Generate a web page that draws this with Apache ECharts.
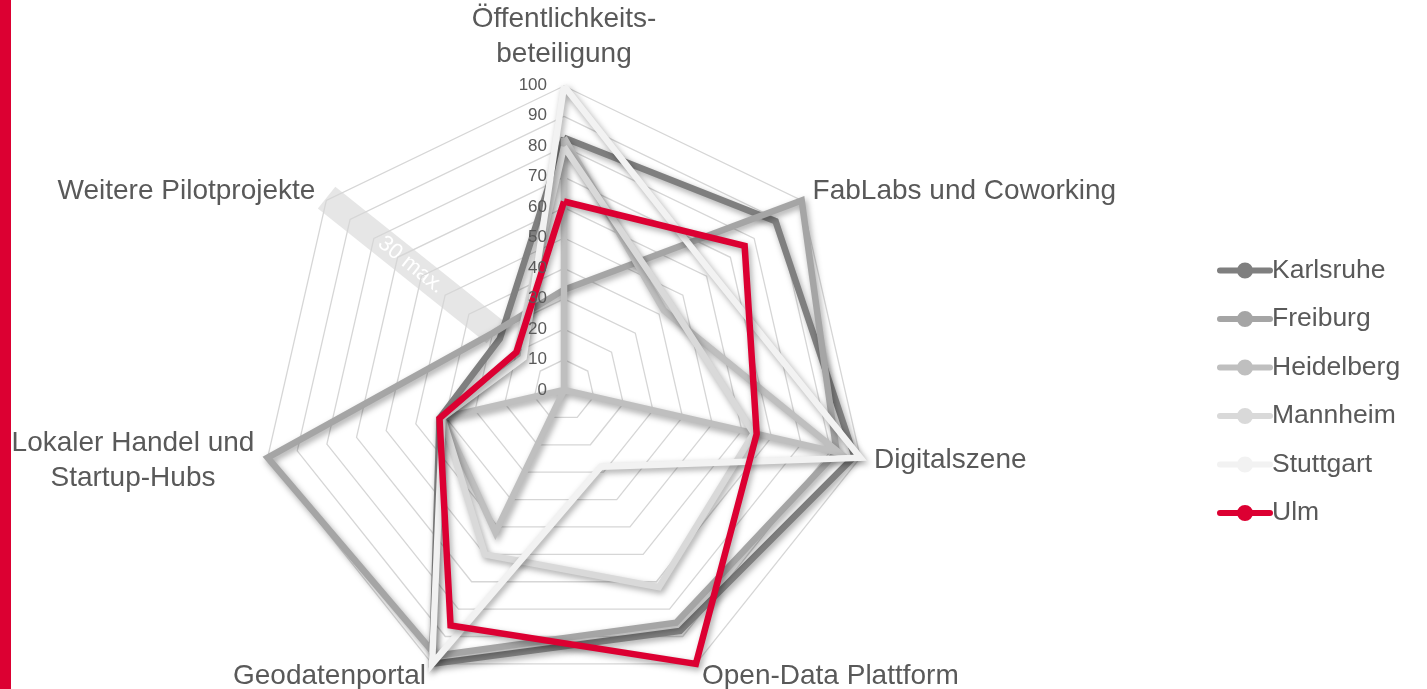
<!DOCTYPE html>
<html>
<head>
<meta charset="utf-8">
<script src="https://cdn.jsdelivr.net/npm/echarts@6/dist/echarts.min.js"></script>
<style>
  html, body { margin: 0; padding: 0; background: #fff; }
  #redBar { position: absolute; left: 0; top: 0; width: 11px; height: 689px; background: #DC0032; z-index: 2; }
  #chart { position: absolute; left: 0; top: 0; width: 1427px; height: 689px; }
</style>
</head>
<body>
<div id="chart"></div>
<div id="redBar"></div>
<script>
// Achsen im Uhrzeigersinn, oben beginnend
const axisNames = [
  'Öffentlichkeits-\nbeteiligung',
  'FabLabs und Coworking',
  'Digitalszene',
  'Open-Data Plattform',
  'Geodatenportal',
  'Lokaler Handel und\nStartup-Hubs',
  'Weitere Pilotprojekte'
];
const cities = ['Karlsruhe', 'Freiburg', 'Heidelberg', 'Mannheim', 'Stuttgart', 'Ulm'];
const karlsruhe  = [83, 89, 98, 88, 100, 42, 27];
const freiburg   = [33, 100, 92, 85, 97, 100, 30];
const heidelberg = [83, 42, 93, 0, 52, 41, 0];
const mannheim   = [80, 45, 64, 72, 60, 41, 20];
const stuttgart  = [100, 62, 100, 28, 100, 41, 17];
const ulm        = [62, 76, 65, 100, 86, 42, 20];
const tickLabels = ['0', '10', '20', '30', '40', '50', '60', '70', '80', '90', '100'];

const colors = ['#7F7F7F', '#A5A5A5', '#BFBFBF', '#D9D9D9', '#F2F2F2', '#DC0032'];
const values = [karlsruhe, freiburg, heidelberg, mannheim, stuttgart, ulm];

// echarts legt radar-achsen gegen den uhrzeigersinn an -> umsortieren
const order = [0, 6, 5, 4, 3, 2, 1];
const reorder = arr => order.map(i => arr[i]);

const font = '"Liberation Sans", Arial, sans-serif';
const legendIcon = 'path://M3,5 L53,5 A3,3 0 0 1 53,11 L3,11 A3,3 0 0 1 3,5 Z M20,8 A8,8 0 1 1 36,8 A8,8 0 1 1 20,8 Z';

const chart = echarts.init(document.getElementById('chart'));
chart.setOption({
  backgroundColor: '#fff',
  animation: false,
  textStyle: { fontFamily: font },
  legend: {
    orient: 'vertical',
    left: 1212,
    top: 252,
    itemWidth: 56,
    itemHeight: 16,
    itemGap: 21.5,
    icon: legendIcon,
    data: cities,
    textStyle: { color: '#595959', fontSize: 26.5, fontFamily: font, padding: [0, 0, 0, -6] }
  },
  grid: { left: 555, width: 10, top: 85, height: 305 },
  xAxis: { type: 'value', show: false },
  yAxis: {
    type: 'value', min: 0, max: 100, interval: 10, zlevel: 1,
    axisLine: { show: false }, axisTick: { show: false }, splitLine: { show: false },
    axisLabel: { color: '#595959', fontSize: 17, fontFamily: font, margin: 8,
      formatter: v => tickLabels[Math.round(v / 10)] }
  },
  radar: {
    center: [564, 390],
    radius: 304,
    startAngle: 90,
    splitNumber: 10,
    shape: 'polygon',
    nameGap: 14,
    indicator: reorder(axisNames).map(n => ({ name: n, min: 0, max: 100 })),
    axisName: {
      color: '#595959', fontSize: 28, fontFamily: font, lineHeight: 35,
      formatter: function (name) {
        if (name.indexOf('Lokaler') === 0) {
          return name.split('\n').map(s => '{c|' + s + '}').join('\n');
        }
        return name;
      },
      rich: { c: { width: 242, align: 'center', fontSize: 28, color: '#595959', lineHeight: 35, fontFamily: font } }
    },
    splitLine: { lineStyle: { color: '#D6D6D6', width: 1.3 } },
    splitArea: { show: false },
    axisLine: { show: false },
    axisTick: { show: false },
    axisLabel: { show: false }
  },
  series: [{
    type: 'radar',
    symbol: 'none',
    data: cities.map((c, i) => ({
      name: c,
      value: reorder(values[i]),
      itemStyle: { color: colors[i] },
      lineStyle: {
        color: colors[i], width: 6.5, join: 'miter',
        shadowColor: 'rgba(0,0,0,0.35)', shadowBlur: 6, shadowOffsetX: 2, shadowOffsetY: 3
      }
    }))
  }],
  graphic: [{
    type: 'group',
    x: 411, y: 265,
    rotation: -38.6 * Math.PI / 180,
    z: 1,
    children: [
      { type: 'rect', shape: { x: -108, y: -14, width: 216, height: 28 }, style: { fill: '#E6E6E6' } },
      { type: 'text', style: { text: '30 max.', x: 0, y: 0, fill: '#fff', fontSize: 22, fontFamily: font, align: 'center', verticalAlign: 'middle' } }
    ]
  }]
});
</script>
</body>
</html>
